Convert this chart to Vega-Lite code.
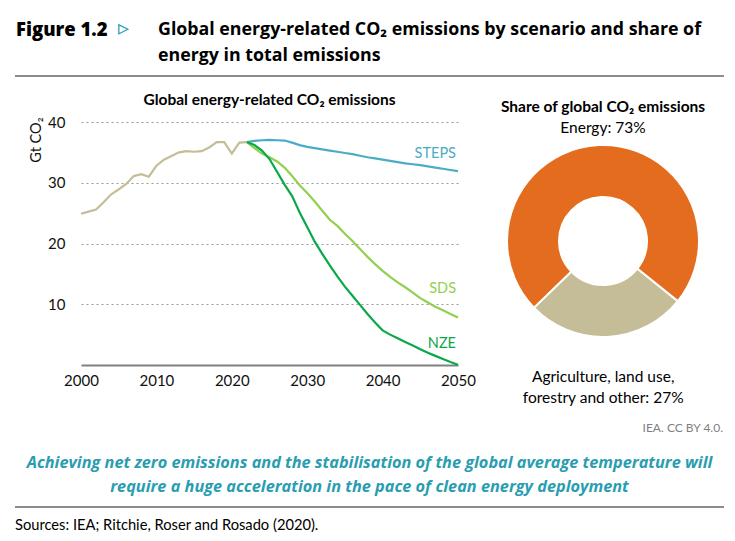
{
  "$schema": "https://vega.github.io/schema/vega-lite/v6.json",
  "padding": {"left": 15, "top": 16, "right": 0, "bottom": 5},
  "background": "white",
  "config": {
    "font": "Lato",
    "view": {"stroke": null},
    "title": {"font": "Lato", "color": "#000000"},
    "axis": {"labelFont": "Lato", "titleFont": "Lato"}
  },
  "datasets": {
    "emissions": [
      {"year": 2000, "scenario": "Historical", "value": 24.9},
      {"year": 2001, "scenario": "Historical", "value": 25.25},
      {"year": 2002, "scenario": "Historical", "value": 25.6},
      {"year": 2003, "scenario": "Historical", "value": 26.8},
      {"year": 2004, "scenario": "Historical", "value": 28.1},
      {"year": 2005, "scenario": "Historical", "value": 28.9},
      {"year": 2006, "scenario": "Historical", "value": 29.8},
      {"year": 2007, "scenario": "Historical", "value": 31.1},
      {"year": 2008, "scenario": "Historical", "value": 31.4},
      {"year": 2009, "scenario": "Historical", "value": 31.0},
      {"year": 2010, "scenario": "Historical", "value": 32.8},
      {"year": 2011, "scenario": "Historical", "value": 33.8},
      {"year": 2012, "scenario": "Historical", "value": 34.4},
      {"year": 2013, "scenario": "Historical", "value": 35.0},
      {"year": 2014, "scenario": "Historical", "value": 35.2},
      {"year": 2015, "scenario": "Historical", "value": 35.1},
      {"year": 2016, "scenario": "Historical", "value": 35.2},
      {"year": 2017, "scenario": "Historical", "value": 35.8},
      {"year": 2018, "scenario": "Historical", "value": 36.7},
      {"year": 2019, "scenario": "Historical", "value": 36.7},
      {"year": 2020, "scenario": "Historical", "value": 34.8},
      {"year": 2021, "scenario": "Historical", "value": 36.6},
      {"year": 2022, "scenario": "Historical", "value": 36.7},
      {"year": 2022, "scenario": "STEPS", "value": 36.7},
      {"year": 2023, "scenario": "STEPS", "value": 36.9},
      {"year": 2024, "scenario": "STEPS", "value": 37.0},
      {"year": 2025, "scenario": "STEPS", "value": 37.05},
      {"year": 2026, "scenario": "STEPS", "value": 37.0},
      {"year": 2027, "scenario": "STEPS", "value": 36.95},
      {"year": 2028, "scenario": "STEPS", "value": 36.6},
      {"year": 2029, "scenario": "STEPS", "value": 36.2},
      {"year": 2030, "scenario": "STEPS", "value": 35.9},
      {"year": 2031, "scenario": "STEPS", "value": 35.7},
      {"year": 2032, "scenario": "STEPS", "value": 35.5},
      {"year": 2033, "scenario": "STEPS", "value": 35.3},
      {"year": 2034, "scenario": "STEPS", "value": 35.1},
      {"year": 2035, "scenario": "STEPS", "value": 34.9},
      {"year": 2036, "scenario": "STEPS", "value": 34.7},
      {"year": 2037, "scenario": "STEPS", "value": 34.45},
      {"year": 2038, "scenario": "STEPS", "value": 34.2},
      {"year": 2039, "scenario": "STEPS", "value": 34.0},
      {"year": 2040, "scenario": "STEPS", "value": 33.8},
      {"year": 2041, "scenario": "STEPS", "value": 33.6},
      {"year": 2042, "scenario": "STEPS", "value": 33.4},
      {"year": 2043, "scenario": "STEPS", "value": 33.2},
      {"year": 2044, "scenario": "STEPS", "value": 33.05},
      {"year": 2045, "scenario": "STEPS", "value": 32.9},
      {"year": 2046, "scenario": "STEPS", "value": 32.7},
      {"year": 2047, "scenario": "STEPS", "value": 32.5},
      {"year": 2048, "scenario": "STEPS", "value": 32.3},
      {"year": 2049, "scenario": "STEPS", "value": 32.1},
      {"year": 2050, "scenario": "STEPS", "value": 31.9},
      {"year": 2022, "scenario": "SDS", "value": 36.7},
      {"year": 2023, "scenario": "SDS", "value": 35.7},
      {"year": 2024, "scenario": "SDS", "value": 34.8},
      {"year": 2025, "scenario": "SDS", "value": 34.2},
      {"year": 2026, "scenario": "SDS", "value": 33.5},
      {"year": 2027, "scenario": "SDS", "value": 32.5},
      {"year": 2028, "scenario": "SDS", "value": 31.1},
      {"year": 2029, "scenario": "SDS", "value": 29.6},
      {"year": 2030, "scenario": "SDS", "value": 28.3},
      {"year": 2031, "scenario": "SDS", "value": 26.9},
      {"year": 2032, "scenario": "SDS", "value": 25.4},
      {"year": 2033, "scenario": "SDS", "value": 23.9},
      {"year": 2034, "scenario": "SDS", "value": 22.9},
      {"year": 2035, "scenario": "SDS", "value": 21.6},
      {"year": 2036, "scenario": "SDS", "value": 20.4},
      {"year": 2037, "scenario": "SDS", "value": 19.1},
      {"year": 2038, "scenario": "SDS", "value": 17.8},
      {"year": 2039, "scenario": "SDS", "value": 16.6},
      {"year": 2040, "scenario": "SDS", "value": 15.5},
      {"year": 2041, "scenario": "SDS", "value": 14.5},
      {"year": 2042, "scenario": "SDS", "value": 13.6},
      {"year": 2043, "scenario": "SDS", "value": 12.8},
      {"year": 2044, "scenario": "SDS", "value": 11.9},
      {"year": 2045, "scenario": "SDS", "value": 11.0},
      {"year": 2046, "scenario": "SDS", "value": 10.3},
      {"year": 2047, "scenario": "SDS", "value": 9.6},
      {"year": 2048, "scenario": "SDS", "value": 9.0},
      {"year": 2049, "scenario": "SDS", "value": 8.4},
      {"year": 2050, "scenario": "SDS", "value": 7.8},
      {"year": 2022, "scenario": "NZE", "value": 36.7},
      {"year": 2023, "scenario": "NZE", "value": 36.2},
      {"year": 2024, "scenario": "NZE", "value": 35.3},
      {"year": 2025, "scenario": "NZE", "value": 33.9},
      {"year": 2026, "scenario": "NZE", "value": 31.8},
      {"year": 2027, "scenario": "NZE", "value": 29.7},
      {"year": 2028, "scenario": "NZE", "value": 27.8},
      {"year": 2029, "scenario": "NZE", "value": 25.1},
      {"year": 2030, "scenario": "NZE", "value": 22.7},
      {"year": 2031, "scenario": "NZE", "value": 20.3},
      {"year": 2032, "scenario": "NZE", "value": 18.3},
      {"year": 2033, "scenario": "NZE", "value": 16.4},
      {"year": 2034, "scenario": "NZE", "value": 14.6},
      {"year": 2035, "scenario": "NZE", "value": 12.9},
      {"year": 2036, "scenario": "NZE", "value": 11.4},
      {"year": 2037, "scenario": "NZE", "value": 9.9},
      {"year": 2038, "scenario": "NZE", "value": 8.4},
      {"year": 2039, "scenario": "NZE", "value": 7.0},
      {"year": 2040, "scenario": "NZE", "value": 5.7},
      {"year": 2041, "scenario": "NZE", "value": 5.0},
      {"year": 2042, "scenario": "NZE", "value": 4.4},
      {"year": 2043, "scenario": "NZE", "value": 3.8},
      {"year": 2044, "scenario": "NZE", "value": 3.2},
      {"year": 2045, "scenario": "NZE", "value": 2.6},
      {"year": 2046, "scenario": "NZE", "value": 2.0},
      {"year": 2047, "scenario": "NZE", "value": 1.5},
      {"year": 2048, "scenario": "NZE", "value": 1.0},
      {"year": 2049, "scenario": "NZE", "value": 0.5},
      {"year": 2050, "scenario": "NZE", "value": 0.05}
    ],
    "share": [
      {"category": "Agriculture, land use, forestry and other", "share": 27, "label": ["Agriculture, land use,", "forestry and other: 27%"]},
      {"category": "Energy", "share": 73, "label": ["Energy: 73%"]}
    ]
  },
  "title": {
    "text": "Sources: IEA; Ritchie, Roser and Rosado (2020).",
    "orient": "bottom", "anchor": "start", "fontSize": 14.7, "fontWeight": "normal", "offset": 10
  },
  "spacing": 14,
  "vconcat": [
    {
      "spacing": 0,
      "bounds": "flush",
      "hconcat": [
        {
          "width": 102, "height": 0.01,
          "data": {"values": []}, "mark": "point",
          "view": {"stroke": "#8c8c8c", "strokeWidth": 2},
          "title": {"text": "Figure 1.2", "anchor": "start", "font": "Open Sans", "fontSize": 18.5, "fontWeight": 800, "offset": 37}
        },
        {
          "width": 40, "height": 0.01,
          "data": {"values": []}, "mark": "point",
          "view": {"stroke": "#8c8c8c", "strokeWidth": 2},
          "title": {"text": "▹", "anchor": "start", "fontSize": 22, "font": "DejaVu Sans", "fontWeight": "bold", "color": "#2A9DB0", "offset": 36}
        },
        {
          "width": 565, "height": 0.01,
          "data": {"values": []}, "mark": "point",
          "view": {"stroke": "#8c8c8c", "strokeWidth": 2},
          "title": {"text": ["Global energy-related CO₂ emissions by scenario and share of", "energy in total emissions"], "anchor": "start", "font": "Open Sans", "fontSize": 17.8, "fontWeight": "bold", "lineHeight": 26, "offset": 11}
        }
      ]
    },
    {
      "spacing": 20,
      "bounds": "flush",
      "resolve": {"scale": {"color": "independent"}},
      "title": {"text": "IEA. CC BY 4.0.", "subtitle": "\u00a0", "subtitleFontSize": 2, "subtitlePadding": 1, "orient": "bottom", "anchor": "end", "fontSize": 12, "fontWeight": "normal", "color": "#7f7f7f", "dx": -5, "offset": 17},
      "hconcat": [
        {"width": 45, "height": 1, "data": {"values": []}, "mark": "point"},
        {
          "width": 377, "height": 243,
          "data": {"name": "emissions"},
          "title": {"text": "Global energy-related CO₂ emissions", "fontSize": 15.5, "fontWeight": "bold", "anchor": "middle", "offset": 7},
          "encoding": {
            "x": {
              "field": "year", "type": "quantitative",
              "scale": {"domain": [2000, 2050], "nice": false, "zero": false},
              "axis": {"values": [2000, 2010, 2020, 2030, 2040, 2050], "format": "d", "title": null, "grid": false, "ticks": false, "labelFlush": false, "domainColor": "#808080", "domainWidth": 2, "labelFontSize": 15, "labelColor": "#111111", "labelPadding": 8}
            },
            "y": {
              "field": "value", "type": "quantitative",
              "scale": {"domain": [0, 40], "nice": false},
              "axis": {"values": [10, 20, 30, 40], "title": "Gt CO₂", "grid": true, "gridDash": [2, 3], "gridColor": "#9a9a9a", "gridWidth": 1.2, "domain": false, "ticks": false, "labelFontSize": 15, "labelColor": "#111111", "labelPadding": 16, "titleFontSize": 14.5, "titleFontWeight": "normal", "titleColor": "#111111", "titleX": -41, "titleY": -5, "titleAlign": "right", "titleBaseline": "alphabetic", "titleAngle": -90}
            }
          },
          "layer": [
            {
              "mark": {"type": "line", "strokeWidth": 2.2},
              "encoding": {
                "color": {"field": "scenario", "type": "nominal", "legend": null,
                  "scale": {"domain": ["Historical", "STEPS", "SDS", "NZE"], "range": ["#C4BD97", "#4BACC6", "#92D050", "#0BA84A"]}}
              }
            },
            {
              "transform": [{"filter": "datum.scenario === 'STEPS' && datum.year === 2050"}],
              "mark": {"type": "text", "align": "right", "dx": -2, "dy": -17, "fontSize": 14.5, "color": "#4BACC6"},
              "encoding": {"text": {"field": "scenario"}}
            },
            {
              "transform": [{"filter": "datum.scenario === 'SDS' && datum.year === 2050"}],
              "mark": {"type": "text", "align": "right", "dx": -2, "dy": -29, "fontSize": 14.5, "color": "#92D050"},
              "encoding": {"text": {"field": "scenario"}}
            },
            {
              "transform": [{"filter": "datum.scenario === 'NZE' && datum.year === 2050"}],
              "mark": {"type": "text", "align": "right", "dx": -2, "dy": -21, "fontSize": 14.5, "color": "#0BA84A"},
              "encoding": {"text": {"field": "scenario"}}
            }
          ]
        },
        {
          "width": 250, "height": 238,
          "data": {"name": "share"},
          "title": {"text": "Share of global CO₂ emissions", "subtitle": "Energy: 73%", "fontSize": 15.5, "fontWeight": "bold", "subtitleFontSize": 15.5, "subtitleColor": "#000000", "subtitleFont": "Lato", "subtitlePadding": 5, "anchor": "middle", "offset": -14},
          "encoding": {
            "theta": {"field": "share", "type": "quantitative", "stack": true, "scale": {"range": [2.248, 8.531]}}
          },
          "layer": [
            {
              "mark": {"type": "arc", "outerRadius": 96, "innerRadius": 44, "stroke": "#ffffff", "strokeWidth": 2},
              "encoding": {
                "color": {"field": "category", "type": "nominal", "legend": null,
                  "scale": {"domain": ["Agriculture, land use, forestry and other", "Energy"], "range": ["#C4BD97", "#E46C1F"]}}
              }
            },
            {
              "transform": [{"filter": "datum.share < 50"}],
              "mark": {"type": "text", "radius": 136, "fontSize": 15.5, "color": "#000000", "lineHeight": 21, "dx": -6},
              "encoding": {"text": {"field": "label"}}
            }
          ]
        }
      ]
    },
    {
      "width": 707, "height": 0.01,
      "data": {"values": []}, "mark": "point",
      "view": {"stroke": "#8c8c8c", "strokeWidth": 2},
      "title": {"text": ["Achieving net zero emissions and the stabilisation of the global average temperature will", "require a huge acceleration in the pace of clean energy deployment"], "anchor": "middle", "font": "Open Sans", "fontSize": 16.3, "fontStyle": "italic", "fontWeight": "bold", "color": "#2A9DB0", "lineHeight": 24, "offset": 12}
    }
  ]
}
